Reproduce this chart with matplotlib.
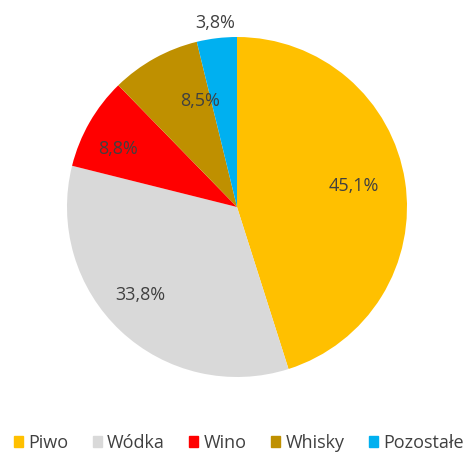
import matplotlib
matplotlib.use("Agg")
import matplotlib.pyplot as plt
import numpy as np

categories = ["Piwo", "Wódka", "Wino", "Whisky", "Pozostałe"]
values = [45.1, 33.8, 8.8, 8.5, 3.8]
labels = ["45,1%", "33,8%", "8,8%", "8,5%", "3,8%"]
colors = ["#FFC000", "#D9D9D9", "#FF0000", "#BF9000", "#00B0F0"]
label_dist = [0.70, 0.77, 0.78, 0.66, 1.09]
label_angle_shift = [1.5, -4.5, 4.0, -10.0, 0.0]

plt.rcParams['font.family'] = ['Open Sans', 'DejaVu Sans']
W, H = 473, 457
fig = plt.figure(figsize=(W/100, H/100), dpi=100)
cx, cy, r = 237, 207, 170
ax = fig.add_axes([(cx - r)/W, 1 - (cy + r)/H, 2*r/W, 2*r/H])
wedges, _ = ax.pie(values, colors=colors, startangle=90, counterclock=False,
                   radius=1, wedgeprops=dict(linewidth=0))
for w, lab, d, s in zip(wedges, labels, label_dist, label_angle_shift):
    ang = np.deg2rad((w.theta1 + w.theta2)/2 + s)
    ax.text(d*np.cos(ang), d*np.sin(ang), lab, ha='center', va='center',
            fontsize=13, color='#404040', clip_on=False)
ax.set_xlim(-1, 1)
ax.set_ylim(-1, 1)
ax.set_aspect('equal')
ax.axis('off')

handles = [plt.Rectangle((0, 0), 1, 1, color=c) for c in colors]
fig.legend(handles, categories, loc='center', bbox_to_anchor=(0.505, 1 - 443/H),
           ncol=5, frameon=False, fontsize=13, handlelength=0.5, handleheight=0.5,
           handletextpad=0.3, columnspacing=1.35, labelcolor='#404040')
fig.savefig("out.png", dpi=100, facecolor='white')
